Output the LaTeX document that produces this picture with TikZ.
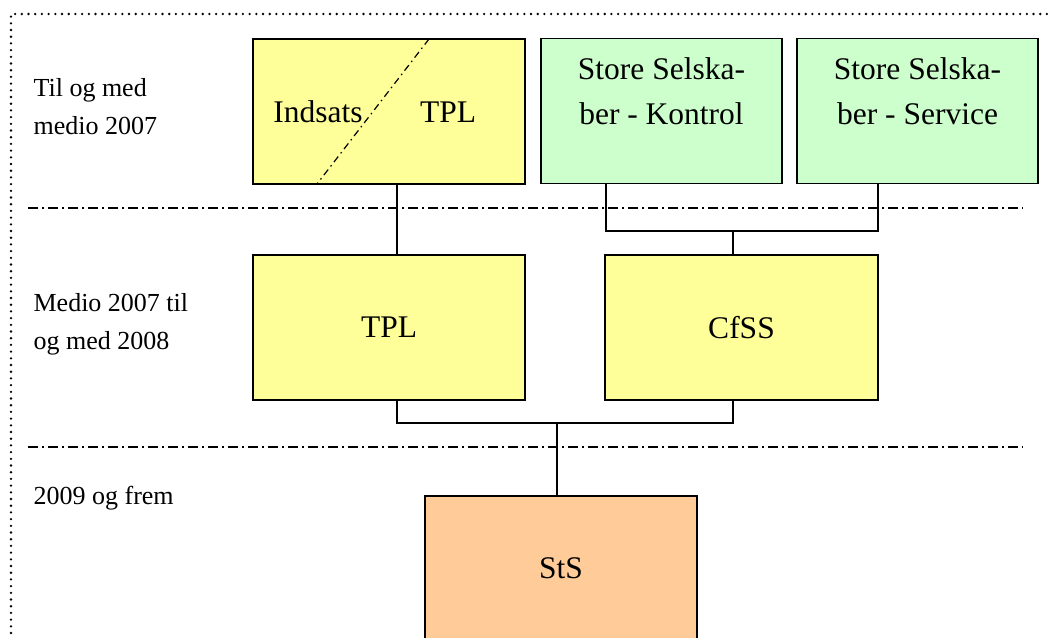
\documentclass[tikz,border=0pt]{standalone}
\usepackage{fontspec}
\setmainfont{Liberation Serif}
\usetikzlibrary{calc}

\definecolor{oldYellow}{HTML}{FFFF99}
\definecolor{oldGreen}{HTML}{CCFFCC}
\definecolor{newOrange}{HTML}{FFCC99}

\begin{document}
\begin{tikzpicture}
  [x=1pt,y=-1pt,
   line width=1.2pt,
   orgN/.style={draw,inner sep=0pt,minimum width=272pt,minimum height=145pt,
     font=\fontsize{31.5}{45}\selectfont},
   yelN/.style={orgN,fill=oldYellow},
   grnN/.style={orgN,fill=oldGreen,minimum width=241pt},
   stsN/.style={orgN,fill=newOrange},
   txtN/.style={inner sep=0pt,align=center,font=\fontsize{31.5}{45}\selectfont},
   perN/.style={anchor=west,inner sep=0pt,align=left,font=\fontsize{26}{38}\selectfont},
   sepLine/.style={line width=1.2pt,dash pattern=on 10pt off 4pt on 2pt off 4pt},
   diagLine/.style={line width=1.2pt,dash pattern=on 7pt off 4pt on 1.5pt off 4pt},
  ]

 \useasboundingbox (0,0) rectangle (1048,637);
 \clip (0,0) rectangle (1048,637);

 % frame and period separators
 \draw[line width=2.6pt,line cap=round,dash pattern=on 0pt off 6.7pt]
   (11,700) -- (11,14) -- (1100,14);
 \draw[sepLine] (28,208) -- (1023,208);
 \draw[sepLine] (28,447) -- (1023,447);

 % period labels
 \node[perN] (per1) at (33,107) {Til og med\\medio 2007};
 \node[perN] (per2) at (33,324) {Medio 2007 til\\og med 2008};
 \node[perN] (per3) at (33,498) {2009 og frem};

 % until medio 2007
 \node[yelN] (indtpl) at (389,111.5) {};
 \draw[diagLine] (429,39) -- (317,184);
 \node[txtN] (inds) at (318,112) {Indsats};
 \node[txtN] (tplOld) at (448,112) {TPL};
 \node[grnN] (ssk) at (661.5,111) {};
 \node[txtN] at ($(ssk.north)+(0,53.5)$) {Store Selska-\\ber - Kontrol};
 \node[grnN] (sss) at (917.5,111) {};
 \node[txtN] at ($(sss.north)+(0,53.5)$) {Store Selska-\\ber - Service};

 % medio 2007 - 2008
 \node[yelN] (tpl) at (389,327.5) {TPL};
 \node[yelN,minimum width=273pt] (cfss) at (741.5,327.5) {CfSS};

 % 2009 and on
 \node[stsN] (sts) at (561,568.5) {StS};

 % connectors
 \coordinate (jTop) at (733,231);
 \coordinate (jMid) at (557,423);
 \draw ([xshift=8pt]indtpl.south) -- ([xshift=8pt]tpl.north);
 \draw ([xshift=-55.5pt]ssk.south) |- (jTop) -| ([xshift=-39.5pt]sss.south);
 \draw (jTop) -- ([xshift=-8.5pt]cfss.north);
 \draw ([xshift=8pt]tpl.south) |- (jMid) -| ([xshift=-8.5pt]cfss.south);
 \draw (jMid) -- ([xshift=-4pt]sts.north);
\end{tikzpicture}
\end{document}
